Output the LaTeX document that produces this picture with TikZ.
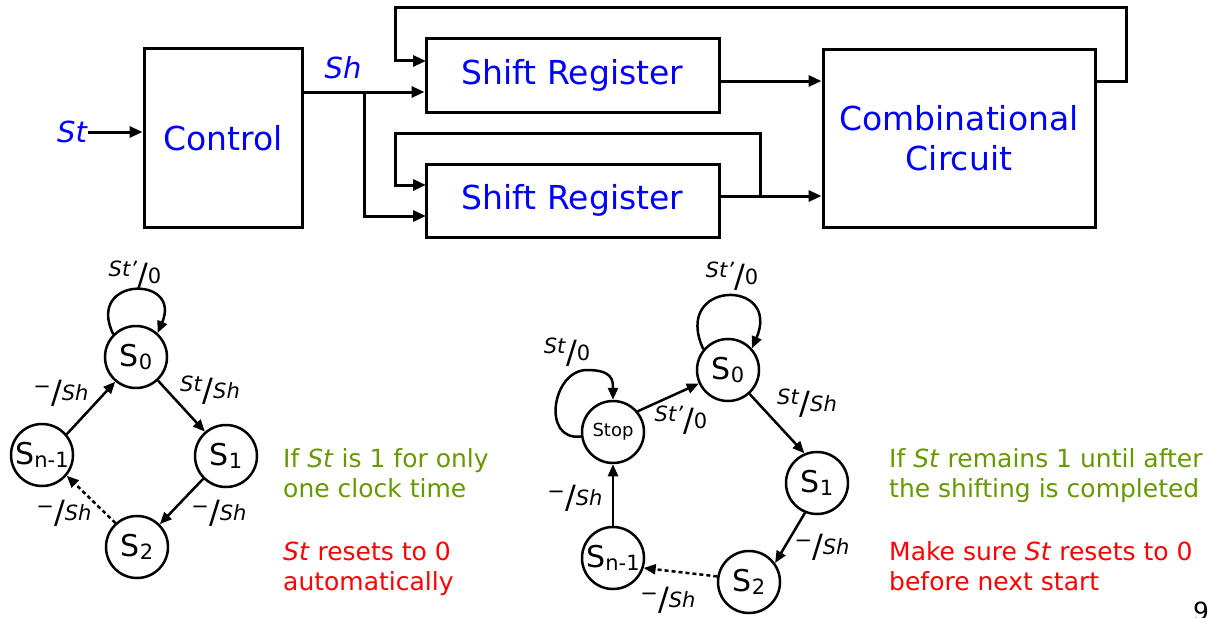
\documentclass[tikz,border=0pt]{standalone}
\usepackage{fontspec}
\setmainfont{DejaVu Sans}
\usetikzlibrary{arrows.meta}
\definecolor{tblue}{RGB}{0,0,255}
\definecolor{tgreen}{RGB}{102,153,0}
\definecolor{tred}{RGB}{255,0,0}
\newcommand\fs[1]{\fontsize{#1}{#1}\selectfont}
\newcommand\stn[1]{S\raisebox{-3pt}{\fs{21}#1}}
\newcommand\tlab[2]{\raisebox{5pt}{#1}\raisebox{-5pt}{\fs{32}/}\raisebox{-2pt}{#2}}
\begin{document}
\begin{tikzpicture}[x=1pt,y=-1pt,
  block/.style={draw,line width=3pt,text=tblue,font=\fs{33},inner sep=0pt,align=center},
  wire/.style={line width=3pt},
  arr/.style={line width=3pt,-{Triangle[length=13pt,width=11pt]}},
  state/.style={circle,draw,line width=2.5pt,minimum size=62pt,inner sep=0pt,font=\fs{30}},
  sarr/.style={line width=2.5pt,-{Triangle[length=12pt,width=10pt]}},
  elab/.style={font=\fs{21},inner sep=0pt},
  sig/.style={text=tblue,font=\fs{29}\itshape,inner sep=1pt},
  note/.style={anchor=base west,font=\fs{25},inner sep=0pt}]
\useasboundingbox (0,0) rectangle (1226,618);
% ---------- block diagram ----------
\node[block,minimum width=158pt,minimum height=178pt] (ctrl) at (223,138) {Control};
\node[block,minimum width=293pt,minimum height=73pt] (sr1) at (572.5,75.5) {Shift Register};
\node[block,minimum width=293pt,minimum height=73pt] (sr2) at (572.5,200.5) {Shift Register};
\node[block,minimum width=272pt,minimum height=177pt] (comb) at (959,138.5) {Combinational\\[7pt]Circuit};
\node[sig] (st) at (72,132) {St};
\node[sig] (sh) at (343,68) {Sh};
\coordinate (tap) at (364,92);
\coordinate (fb2) at (760,196);
\coordinate (in1a) at (426,61);
\coordinate (in2a) at (426,185);
\coordinate (in2b) at (426,216);
\coordinate (out1) at (719,81);
\coordinate (cout) at (1095,81);
\draw[arr] (st) -- (ctrl.west |- st);
\draw[wire] (ctrl.east |- tap) -- (tap);
\draw[arr] (tap) -- (sr1.west |- tap);
\draw[arr] (tap) |- (in2b);
\draw[arr] (out1) -- (comb.west |- out1);
\draw[arr] (sr2.east |- fb2) -- (comb.west |- fb2);
\draw[arr] (fb2) |- (395,133) |- (in2a);
\draw[arr] (cout) -| (1126,8) -| (395,61) -- (in1a);
% ---------- left state diagram ----------
\node[state] (a0) at (136,357) {\stn{0}};
\node[state] (a1) at (226,456) {\stn{1}};
\node[state] (a2) at (137,547) {\stn{2}};
\node[state] (an) at (42,455) {\stn{n-1}};
\draw[sarr] (a0.135) .. controls +(-28,-58) and +(25,-58) .. (a0.48);
\draw[sarr] (an.40) -- (a0.230);
\draw[sarr] (a0.-47) -- (a1.131);
\draw[sarr] (a1.225) -- (a2.45);
\draw[sarr,dash pattern=on 4pt off 3pt] (a2.132) -- (an.-40);
\node[elab] (la0) at (135,275) {\tlab{\textit{St'}}{0}};
\node[elab] (la1) at (210,390) {\tlab{\textit{St}}{\textit{Sh}}};
\node[elab] (la2) at (219,513) {\tlab{−}{\textit{Sh}}};
\node[elab] (la3) at (64,513) {\tlab{−}{\textit{Sh}}};
\node[elab] (la4) at (61,393) {\tlab{−}{\textit{Sh}}};
\node[note,text=tgreen] (n1) at (283,467) {If \textit{St} is 1 for only};
\node[note,text=tgreen] (n2) at (283,497) {one clock time};
\node[note,text=tred] (n3) at (283,560) {\textit{St} resets to 0};
\node[note,text=tred] (n4) at (283,590) {automatically};
% ---------- right state diagram ----------
\node[state] (b0) at (728,370) {\stn{0}};
\node[state,font=\fs{18}] (bs) at (613,432) {Stop};
\node[state] (b1) at (817,483) {\stn{1}};
\node[state] (b2) at (749,582) {\stn{2}};
\node[state] (bn) at (613,558) {\stn{n-1}};
\draw[sarr] (b0.140) .. controls +(-32,-70) and +(30,-70) .. (b0.42);
\draw[sarr] (bs.188) .. controls +(-40,5) and +(-35,0) .. (587,370) .. controls +(25,0) and +(0,-20) .. (bs.90);
\draw[sarr] (bs.40) -- (b0.205);
\draw[sarr] (b0.-48) -- (b1.113);
\draw[sarr] (b1.-112) -- (b2.36);
\draw[sarr,dash pattern=on 4pt off 3pt] (b2.170) -- (bn.-18);
\draw[sarr] (bn) -- (bs);
\node[elab] (lb0) at (732,276) {\tlab{\textit{St'}}{0}};
\node[elab] (lb1) at (567,352) {\tlab{\textit{St}}{0}};
\node[elab] (lb2) at (681,420) {\tlab{\textit{St'}}{0}};
\node[elab] (lb3) at (807,403) {\tlab{\textit{St}}{\textit{Sh}}};
\node[elab] (lb4) at (822,547) {\tlab{−}{\textit{Sh}}};
\node[elab] (lb5) at (668,600) {\tlab{−}{\textit{Sh}}};
\node[elab] (lb6) at (575,498) {\tlab{−}{\textit{Sh}}};
\node[note,text=tgreen] (m1) at (889,467) {If \textit{St} remains 1 until after};
\node[note,text=tgreen] (m2) at (889,497) {the shifting is completed};
\node[note,text=tred] (m3) at (889,560) {Make sure \textit{St} resets to 0};
\node[note,text=tred] (m4) at (889,590) {before next start};
\node[anchor=base,font=\fs{25},inner sep=0pt] (pg) at (1201,620) {9};
\end{tikzpicture}
\end{document}
